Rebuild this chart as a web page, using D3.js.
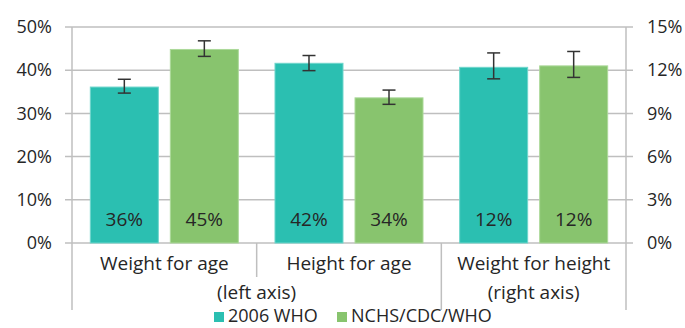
<!DOCTYPE html>
<html>
<head>
<meta charset="utf-8">
<script src="https://cdn.jsdelivr.net/npm/d3@7/dist/d3.min.js"></script>
<style>
  html, body { margin: 0; padding: 0; background: #fff; }
  svg { display: block; font-family: "Open Sans", Lato, sans-serif; }
</style>
</head>
<body>
<svg id="chart" width="685" height="328"></svg>
<script>
// Prevalence by indicator and growth reference
const categories = ["Weight for age", "Height for age", "Weight for height"];
const axisGroups = ["(left axis)", "(right axis)"];
const groupOfCategory = [0, 0, 1];          // which axis each indicator is read against
const seriesNames = ["2006 WHO", "NCHS/CDC/WHO"];
const who2006 = [36.1, 41.6, 12.2];
const who2006Lo = [34.7, 39.9, 11.4];
const who2006Hi = [37.9, 43.4, 13.2];
const nchs = [44.8, 33.6, 12.3];
const nchsLo = [43.2, 32.1, 11.5];
const nchsHi = [46.8, 35.4, 13.3];
const leftTicks = [0, 10, 20, 30, 40, 50];
const rightTicks = [0, 3, 6, 9, 12, 15];

const colors = ["#2bbfb1", "#88c46e"];
const strokes = ["#6fd6cc", "#acd99a"];
const textColor = "#262626";
const gridColor = "#bfbfbf";
const tickFont = 18;
const labelFont = 19;
const legendFont = 18;

const svg = d3.select("#chart");
const x0 = 72, x1 = 626, yTop = 27, yBase = 243;

const yLeft = d3.scaleLinear().domain([0, 50]).range([yBase, yTop]);
const yRight = d3.scaleLinear().domain([0, 15]).range([yBase, yTop]);
const x = d3.scaleBand().domain(categories).range([x0, x1]).padding(0);
const xs = d3.scaleBand().domain(seriesNames).range([0, x.bandwidth()])
  .paddingInner(0.15).paddingOuter(0.229);

const rows = categories.map((c, i) => ({
  cat: c,
  y: groupOfCategory[i] === 0 ? yLeft : yRight,
  vals: [
    { s: seriesNames[0], v: who2006[i], lo: who2006Lo[i], hi: who2006Hi[i], k: 0 },
    { s: seriesNames[1], v: nchs[i], lo: nchsLo[i], hi: nchsHi[i], k: 1 }
  ]
}));

// Gridlines (with tick stubs outside both axes)
svg.append("g").selectAll("line").data(leftTicks).join("line")
  .attr("x1", x0 - 7).attr("x2", x1 + 7)
  .attr("y1", d => yLeft(d)).attr("y2", d => yLeft(d))
  .attr("stroke", gridColor).attr("stroke-width", 1.5);

// Left axis
const leftAxis = svg.append("g").attr("transform", `translate(${x0},0)`)
  .call(d3.axisLeft(yLeft).tickValues(leftTicks).tickFormat(d => d + "%").tickSize(0).tickPadding(20));
leftAxis.select(".domain").remove();
leftAxis.selectAll("text").attr("font-size", tickFont).attr("fill", textColor)
  .attr("font-family", "'Open Sans', sans-serif");

// Right axis
const rightAxis = svg.append("g").attr("transform", `translate(${x1},0)`)
  .call(d3.axisRight(yRight).tickValues(rightTicks).tickFormat(d => d + "%").tickSize(0).tickPadding(21));
rightAxis.select(".domain").remove();
rightAxis.selectAll("text").attr("font-size", tickFont).attr("fill", textColor)
  .attr("font-family", "'Open Sans', sans-serif");

// Bars
const groups = svg.append("g").selectAll("g").data(rows).join("g")
  .attr("transform", d => `translate(${x(d.cat)},0)`);

groups.selectAll("rect").data(d => d.vals.map(v => ({ ...v, y: d.y }))).join("rect")
  .attr("x", d => xs(d.s)).attr("width", xs.bandwidth())
  .attr("y", d => d.y(d.v)).attr("height", d => d.y(0) - d.y(d.v))
  .attr("fill", d => colors[d.k])
  .attr("stroke", d => strokes[d.k]).attr("stroke-width", 1);

// Value labels inside bars
groups.selectAll("text.val").data(d => d.vals).join("text").attr("class", "val")
  .attr("x", d => xs(d.s) + xs.bandwidth() / 2).attr("y", 226)
  .attr("text-anchor", "middle").attr("font-size", labelFont).attr("fill", textColor)
  .text(d => Math.round(d.v) + "%");

// Error bars
const eb = groups.selectAll("g.err").data(d => d.vals.map(v => ({ ...v, y: d.y }))).join("g").attr("class", "err")
  .attr("stroke", "#333").attr("stroke-width", 1.5);
eb.append("line")
  .attr("x1", d => xs(d.s) + xs.bandwidth() / 2).attr("x2", d => xs(d.s) + xs.bandwidth() / 2)
  .attr("y1", d => d.y(d.lo)).attr("y2", d => d.y(d.hi));
eb.append("line")
  .attr("x1", d => xs(d.s) + xs.bandwidth() / 2 - 6.5).attr("x2", d => xs(d.s) + xs.bandwidth() / 2 + 6.5)
  .attr("y1", d => d.y(d.lo)).attr("y2", d => d.y(d.lo));
eb.append("line")
  .attr("x1", d => xs(d.s) + xs.bandwidth() / 2 - 6.5).attr("x2", d => xs(d.s) + xs.bandwidth() / 2 + 6.5)
  .attr("y1", d => d.y(d.hi)).attr("y2", d => d.y(d.hi));

// Vertical axis lines and category separators
const axisG = svg.append("g").attr("stroke", gridColor).attr("stroke-width", 1.5);
axisG.append("line").attr("x1", x0).attr("x2", x0).attr("y1", yTop).attr("y2", 310);
axisG.append("line").attr("x1", x1).attr("x2", x1).attr("y1", yTop).attr("y2", 310);
categories.slice(1).forEach((c, i) => {
  const sameGroup = groupOfCategory[i] === groupOfCategory[i + 1];
  axisG.append("line").attr("x1", x(c)).attr("x2", x(c))
    .attr("y1", yBase).attr("y2", sameGroup ? 277 : 310);
});

// Category labels
svg.append("g").selectAll("text").data(categories).join("text")
  .attr("x", d => x(d) + x.bandwidth() / 2).attr("y", 270)
  .attr("text-anchor", "middle").attr("font-size", labelFont).attr("fill", textColor)
  .text(d => d);

// Axis group labels
svg.append("g").selectAll("text").data(axisGroups).join("text")
  .attr("x", (d, gi) => {
    const cats = categories.filter((c, i) => groupOfCategory[i] === gi);
    return (x(cats[0]) + x(cats[cats.length - 1]) + x.bandwidth()) / 2;
  })
  .attr("y", 299)
  .attr("text-anchor", "middle").attr("font-size", labelFont).attr("fill", textColor)
  .text(d => d);

// Legend
const legend = svg.append("g");
const legendX = [214, 337];
seriesNames.forEach((s, k) => {
  legend.append("rect").attr("x", legendX[k]).attr("y", 312).attr("width", 10).attr("height", 10)
    .attr("fill", colors[k]);
  legend.append("text").attr("x", legendX[k] + 14).attr("y", 322)
    .attr("font-size", legendFont).attr("fill", textColor).text(s);
});
</script>
</body>
</html>
